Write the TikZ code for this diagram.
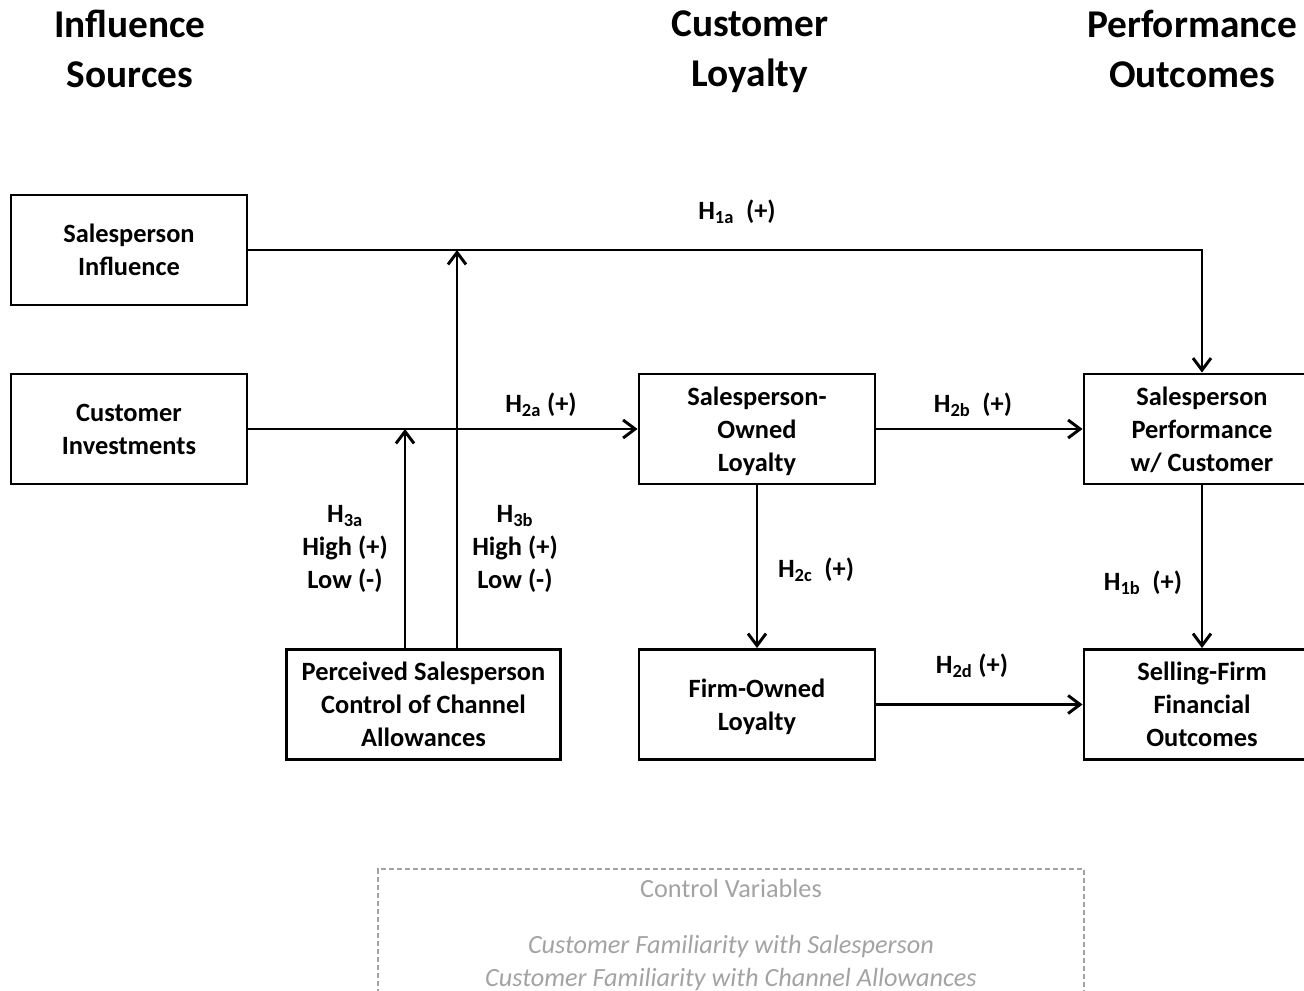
\documentclass[tikz,border=0pt]{standalone}
\usepackage{fontspec}
\setmainfont{Carlito}
\usetikzlibrary{arrows.meta}
\newcommand\bxfont{\fontsize{19.8}{24.75}\selectfont}
\newcommand\hdfont{\fontsize{29.5}{37.5}\selectfont}
\newcommand\cvfont{\fontsize{19.7}{24.75}\selectfont}
\definecolor{cvgray}{HTML}{A3A3A3}
\begin{document}
\begin{tikzpicture}[x=0.75pt,y=-0.75pt,
  box/.style={draw,line width=2.2pt,align=center,font=\bfseries\bxfont,
    minimum width=177pt,minimum height=82.5pt,inner sep=0pt,
    text depth=0pt},
  conn/.style={line width=2.2pt,-{Straight Barb[length=9pt,width=13.5pt,line width=2.2pt]}},
  lbl/.style={font=\bfseries\bxfont,align=center,inner sep=0pt},
  head/.style={font=\bfseries\hdfont,align=center,inner sep=0pt,text depth=0pt},
  cvtext/.style={font=\cvfont,text=cvgray,inner sep=0pt,text depth=0pt}
]
\useasboundingbox (0,0) rectangle (1304,991);

% column headings
\node[head] (h1) at (130,49) {Influence\\Sources};
\node[head] (h2) at (750,49) {Customer\\Loyalty};
\node[head] (h3) at (1192,49) {Performance\\Outcomes};

% constructs
\node[box] (si)  at (129,250)   {Salesperson\\Influence};
\node[box] (ci)  at (129,429)   {Customer\\Investments};
\node[box,minimum width=206pt,minimum height=82pt] (pc) at (423.5,704.5)
  {Perceived Salesperson\\Control of Channel\\Allowances};
\node[box] (sol) at (757,429)   {Salesperson-\\Owned\\Loyalty};
\node[box] (fol) at (757,704.5) {Firm-Owned\\Loyalty};
\node[box] (spp) at (1202,429)  {Salesperson\\Performance\\w/ Customer};
\node[box] (sff) at (1202,704.5){Selling-Firm\\Financial\\Outcomes};

% paths
\coordinate (c1) at (1202,250);
\coordinate (m1) at (457,250);
\coordinate (m2) at (405,429);
\draw[conn] (si.east) -- (c1) -- (spp.north);
\draw[conn] (pc.north -| m1) -- (m1);
\draw[conn] (ci.east) -- (sol.west);
\draw[conn] (pc.north -| m2) -- (m2);
\draw[conn] (sol.east) -- (spp.west);
\draw[conn] (sol.south) -- (fol.north);
\draw[conn] (spp.south) -- (sff.north);
\draw[conn] (fol.east) -- (sff.west);

% hypothesis labels
\node[lbl] (l1a) at (737,212) {H\textsubscript{1a}~~(+)};
\node[lbl] (l2a) at (541,405) {H\textsubscript{2a}~(+)};
\node[lbl] (l2b) at (973,405) {H\textsubscript{2b}~~(+)};
\node[lbl] (l2c) at (816,570) {H\textsubscript{2c}~~(+)};
\node[lbl] (l1b) at (1143,583) {H\textsubscript{1b}~~(+)};
\node[lbl] (l2d) at (972,666) {H\textsubscript{2d}~(+)};
\node[lbl] (l3a) at (345,549) {H\textsubscript{3a}\\High (+)\\Low (-)};
\node[lbl] (l3b) at (515,549) {H\textsubscript{3b}\\High (+)\\Low (-)};

% control variables
\draw[cvgray,line width=1pt,dash pattern=on 4pt off 2pt]
  (378,1010) -- (378,869) -- (1084,869) -- (1084,1010);
\node[cvtext] (cv)  at (731,888) {Control Variables};
\node[cvtext] (cv1) at (731,944) {\itshape Customer Familiarity with Salesperson};
\node[cvtext] (cv2) at (731,977) {\itshape Customer Familiarity with Channel Allowances};
\end{tikzpicture}
\end{document}
